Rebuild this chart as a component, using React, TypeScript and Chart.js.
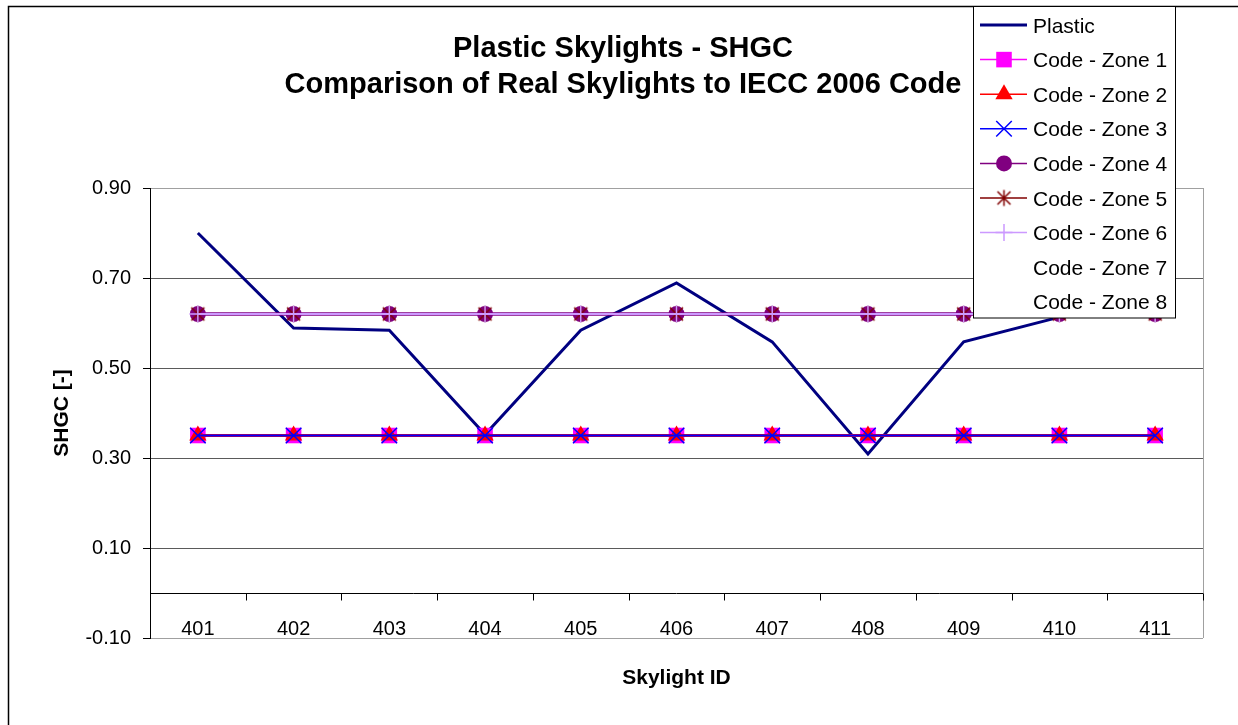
import React, { useEffect, useRef } from "react";
import { Chart, registerables } from "chart.js";
import { drawPoint } from "chart.js/helpers";

Chart.register(...registerables);

// ---------- data ----------
const categories = ["401", "402", "403", "404", "405", "406", "407", "408", "409", "410", "411"];
const plastic = [0.8, 0.589, 0.584, 0.352, 0.584, 0.689, 0.558, 0.309, 0.558, 0.613, 0.66];
const zone1 = [0.35, 0.35, 0.35, 0.35, 0.35, 0.35, 0.35, 0.35, 0.35, 0.35, 0.35];
const zone2 = [0.35, 0.35, 0.35, 0.35, 0.35, 0.35, 0.35, 0.35, 0.35, 0.35, 0.35];
const zone3 = [0.35, 0.35, 0.35, 0.35, 0.35, 0.35, 0.35, 0.35, 0.35, 0.35, 0.35];
const zone4 = [0.62, 0.62, 0.62, 0.62, 0.62, 0.62, 0.62, 0.62, 0.62, 0.62, 0.62];
const zone5 = [0.62, 0.62, 0.62, 0.62, 0.62, 0.62, 0.62, 0.62, 0.62, 0.62, 0.62];
const zone6 = [0.62, 0.62, 0.62, 0.62, 0.62, 0.62, 0.62, 0.62, 0.62, 0.62, 0.62];
const zone7: (number | null)[] = [null, null, null, null, null, null, null, null, null, null, null];
const zone8: (number | null)[] = [null, null, null, null, null, null, null, null, null, null, null];
const yTicks = [0.9, 0.7, 0.5, 0.3, 0.1, -0.1];
const seriesNames = [
  "Plastic",
  "Code - Zone 1",
  "Code - Zone 2",
  "Code - Zone 3",
  "Code - Zone 4",
  "Code - Zone 5",
  "Code - Zone 6",
  "Code - Zone 7",
  "Code - Zone 8",
];
const titleLines = ["Plastic Skylights - SHGC", "Comparison of Real Skylights to IECC 2006 Code"];
const xTitle = "Skylight ID";
const yTitle = "SHGC [-]";

const FONT = "'Liberation Sans', Arial, sans-serif";

function makeStar(): HTMLCanvasElement {
  const c = document.createElement("canvas");
  c.width = 19;
  c.height = 19;
  const g = c.getContext("2d")!;
  g.strokeStyle = "#800000";
  g.lineWidth = 1.5;
  g.beginPath();
  g.moveTo(3, 3);
  g.lineTo(16, 16);
  g.moveTo(16, 3);
  g.lineTo(3, 16);
  g.moveTo(9.5, 1.5);
  g.lineTo(9.5, 17.5);
  g.stroke();
  g.fillStyle = "#800000";
  g.beginPath();
  g.arc(9.5, 9.5, 1.8, 0, Math.PI * 2);
  g.fill();
  return c;
}

export default function App() {
  const ref = useRef<HTMLCanvasElement | null>(null);

  useEffect(() => {
    if (!ref.current) return;
    const star = makeStar();

    const styles: any[] = [
      { color: "#000080", lw: 3, ps: null },
      { color: "#FF00FF", lw: 3, ps: "rect", r: 11, bw: 0 },
      { color: "#FF0000", lw: 3, ps: "triangle", r: 10, bw: 0 },
      { color: "#0000FF", lw: 2, ps: "crossRot", r: 11, bw: 1.5 },
      { color: "#800080", lw: 3.5, ps: "circle", r: 8, bw: 0 },
      { color: "#800000", lw: 2, ps: star, r: 9, bw: 0 },
      { color: "#CC99FF", lw: 2, ps: "cross", r: 8.5, bw: 1.5 },
      { color: "#000000", lw: 0, ps: null },
      { color: "#000000", lw: 0, ps: null },
    ];
    const dataSets = [plastic, zone1, zone2, zone3, zone4, zone5, zone6, zone7, zone8];

    const datasets = dataSets.map((d, i) => {
      const s = styles[i];
      return {
        label: seriesNames[i],
        data: d,
        borderColor: s.color,
        backgroundColor: s.color,
        borderWidth: s.lw,
        showLine: s.lw > 0,
        pointStyle: s.ps || "circle",
        pointRadius: s.ps ? s.r : 0,
        pointBorderWidth: s.bw ?? 0,
        tension: 0,
        order: 20 - i,
        clip: false as any,
      };
    });

    const decor = {
      id: "decor",
      beforeDatasetsDraw(chart: any) {
        const { ctx, chartArea: a, scales } = chart;
        ctx.save();
        // plot right border
        ctx.strokeStyle = "#a0a0a0";
        ctx.lineWidth = 1;
        const rx = Math.round(a.right) + 0.5;
        ctx.beginPath();
        ctx.moveTo(rx, a.top);
        ctx.lineTo(rx, a.bottom);
        ctx.stroke();
        // horizontal axis crossing at 0
        const yy = Math.round(scales.y.getPixelForValue(0)) + 0.5;
        ctx.strokeStyle = "#000";
        ctx.beginPath();
        ctx.moveTo(a.left, yy);
        ctx.lineTo(a.right, yy);
        const n = categories.length;
        const w = (a.right - a.left) / n;
        for (let i = 0; i <= n; i++) {
          const x = Math.round(a.left + i * w) + 0.5;
          ctx.moveTo(x, yy);
          ctx.lineTo(x, yy + 7);
        }
        ctx.stroke();
        // category labels
        ctx.fillStyle = "#000";
        ctx.font = `20px ${FONT}`;
        ctx.textAlign = "center";
        ctx.textBaseline = "alphabetic";
        categories.forEach((c, i) => {
          ctx.fillText(c, scales.x.getPixelForValue(i), a.bottom - 3);
        });
        ctx.restore();
      },
      afterDraw(chart: any) {
        const { ctx, chartArea: a } = chart;
        ctx.save();
        // outer border
        ctx.strokeStyle = "#000";
        ctx.lineWidth = 1.5;
        ctx.strokeRect(8.5, 6.5, 1400, 900);

        // title
        ctx.fillStyle = "#000";
        ctx.font = `bold 29px ${FONT}`;
        ctx.textAlign = "center";
        ctx.textBaseline = "alphabetic";
        ctx.fillText(titleLines[0], 623, 57);
        ctx.fillText(titleLines[1], 623, 93);

        // axis titles
        ctx.font = `bold 21px ${FONT}`;
        ctx.fillText(xTitle, (a.left + a.right) / 2, 684);
        ctx.save();
        ctx.translate(62, (a.top + a.bottom) / 2);
        ctx.rotate(-Math.PI / 2);
        ctx.textBaseline = "middle";
        ctx.fillText(yTitle, 0, 0);
        ctx.restore();

        // legend
        const lx = 973.5, ly = 6.5, lw = 202, lh = 311.5;
        ctx.fillStyle = "#fff";
        ctx.fillRect(lx, ly, lw, lh);
        ctx.strokeStyle = "#000";
        ctx.lineWidth = 1;
        ctx.strokeRect(lx, ly, lw, lh);
        ctx.font = `21px ${FONT}`;
        ctx.textAlign = "left";
        seriesNames.forEach((name, i) => {
          const s = styles[i];
          const cy = 25 + i * 34.6;
          if (s.lw > 0) {
            ctx.strokeStyle = s.color;
            ctx.lineWidth = i === 0 ? 3 : 1.5;
            ctx.beginPath();
            ctx.moveTo(980, cy);
            ctx.lineTo(1027, cy);
            ctx.stroke();
          }
          if (s.ps) {
            ctx.fillStyle = s.color;
            ctx.strokeStyle = s.color;
            ctx.lineWidth = s.bw || 1;
            drawPoint(ctx, { pointStyle: s.ps, rotation: 0, radius: s.r, borderWidth: s.bw } as any, 1004, cy);
          }
          ctx.fillStyle = "#000";
          ctx.fillText(name, 1033, cy + 7.5);
        });
        ctx.restore();
      },
    };

    const chart = new Chart(ref.current, {
      type: "line",
      data: { labels: categories, datasets: datasets as any },
      options: {
        responsive: false,
        animation: false,
        layout: { padding: { left: 0, top: 188, right: 35, bottom: 87 } },
        plugins: { legend: { display: false }, tooltip: { enabled: false }, title: { display: false } },
        scales: {
          x: { type: "category", display: false, offset: true },
          y: {
            type: "linear",
            min: -0.1,
            max: 0.9,
            afterBuildTicks: (scale: any) => {
              scale.ticks = yTicks.map((v) => ({ value: v }));
            },
            afterFit: (scale: any) => {
              scale.width = 150;
            },
            ticks: {
              padding: 12,
              color: "#000",
              font: { family: FONT, size: 20 },
              callback: (v: any) => Number(v).toFixed(2),
            },
            grid: {
              color: (c: any) => (c.tick && (c.tick.value === 0.9 || c.tick.value === -0.1) ? "#a0a0a0" : "#5a5a5a"),
              tickColor: "#000",
              tickLength: 7,
              drawTicks: true,
            },
            border: { display: true, color: "#000", width: 1 },
          },
        },
      },
      plugins: [decor],
    });
    return () => chart.destroy();
  }, []);

  return (
    <div style={{ position: "fixed", left: 0, top: 0, width: 1238, height: 725, background: "#fff" }}>
      <canvas ref={ref} width={1238} height={725} style={{ display: "block" }} />
    </div>
  );
}
